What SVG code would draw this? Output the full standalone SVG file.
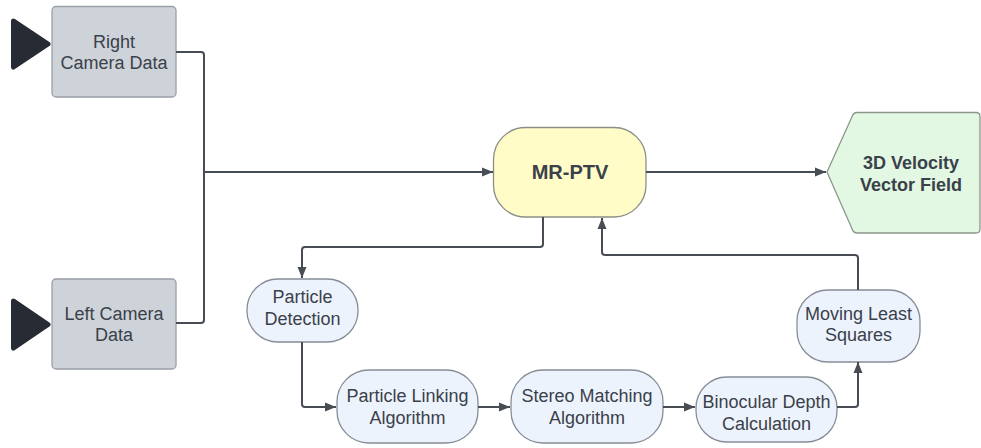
<svg xmlns="http://www.w3.org/2000/svg" width="981" height="448" viewBox="0 0 981 448">
<defs>
<marker id="arr" markerUnits="userSpaceOnUse" markerWidth="12" markerHeight="10" refX="11" refY="5" orient="auto">
<path d="M0,0.5 L11,5 L0,9.5 Z" fill="#474c55"/>
</marker>
</defs>
<style>
text{font-family:"Liberation Sans",Arial,sans-serif;font-size:18px;fill:#3a414a;text-anchor:middle}
.b{font-weight:bold}
.grey{fill:#ced3da;stroke:#9aa0a8;stroke-width:1.3}
.blue{fill:#edf3fd;stroke:#878d97;stroke-width:1.3}
.tri{fill:#272b33;stroke:#272b33;stroke-width:5;stroke-linejoin:round}
.c{fill:none;stroke:#474c55;stroke-width:2}
.ca{fill:none;stroke:#474c55;stroke-width:2;marker-end:url(#arr)}
</style>
<g id="right-camera">
<polygon class="tri" points="13.5,21 48,44 13.5,67"/>
<rect class="grey" x="52" y="6.5" width="124" height="90.5" rx="4"/>
<text x="114" y="47.5">Right</text>
<text x="114" y="69">Camera Data</text>
</g>
<g id="left-camera">
<polygon class="tri" points="13.5,301 48,324.5 13.5,348"/>
<rect class="grey" x="52" y="279" width="124" height="90" rx="4"/>
<text x="114" y="319.5">Left Camera</text>
<text x="114" y="341">Data</text>
</g>
<g id="mr-ptv">
<rect x="493.5" y="127.5" width="152.5" height="89.5" rx="32" fill="#fffcc7" stroke="#8c8f86" stroke-width="1.3"/>
<text class="b" x="570" y="179" style="font-size:20px">MR-PTV</text>
</g>
<g id="velocity-field">
<path d="M827,172 L853,114.5 Q854.5,112.5 857,112.5 L976,112.5 Q980,112.5 980,116.5 L980,229 Q980,233 976,233 L857,233 Q854.5,233 853,231 Z" fill="#e3f8e3" stroke="#8c968c" stroke-width="1.3"/>
<text class="b" x="911" y="169">3D Velocity</text>
<text class="b" x="911" y="190.5">Vector Field</text>
</g>
<g id="particle-detection">
<rect class="blue" x="247" y="279" width="111" height="63" rx="31"/>
<text x="302.5" y="303">Particle</text>
<text x="302.5" y="325">Detection</text>
</g>
<g id="particle-linking">
<rect class="blue" x="337" y="370" width="141" height="73" rx="32"/>
<text x="407.5" y="401.5">Particle Linking</text>
<text x="407.5" y="423.5">Algorithm</text>
</g>
<g id="stereo-matching">
<rect class="blue" x="511" y="370" width="152" height="73" rx="32"/>
<text x="587" y="401.5">Stereo Matching</text>
<text x="587" y="423.5">Algorithm</text>
</g>
<g id="binocular-depth">
<rect class="blue" x="696" y="377" width="141" height="65" rx="31"/>
<text x="766.5" y="408">Binocular Depth</text>
<text x="766.5" y="429.5">Calculation</text>
</g>
<g id="moving-least-squares">
<rect class="blue" x="797" y="290" width="123" height="72" rx="31"/>
<text x="858.5" y="319.5">Moving Least</text>
<text x="858.5" y="341">Squares</text>
</g>
<g id="connectors">
<path class="c" d="M176,52 H201 Q204,52 204,55 V172"/>
<path class="c" d="M176,323 H201 Q204,323 204,320 V172"/>
<path class="ca" d="M204,172 H493"/>
<path class="ca" d="M646,172 H826"/>
<path class="ca" d="M543,217 V244 Q543,247 540,247 H305 Q302,247 302,250 V278"/>
<path class="ca" d="M302,342 V404 Q302,407 305,407 H336"/>
<path class="ca" d="M478,407 H510"/>
<path class="ca" d="M663,407 H695"/>
<path class="ca" d="M837,407 H855 Q858,407 858,404 V362"/>
<path class="ca" d="M858,290 V258 Q858,255 855,255 H605 Q602,255 602,252 V218"/>
</g>
</svg>
